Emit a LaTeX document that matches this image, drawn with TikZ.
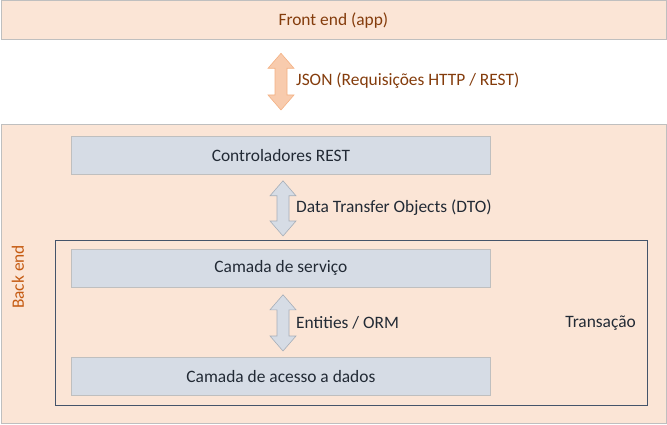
\documentclass[tikz,border=0pt]{standalone}
\usepackage{fontspec}
\setmainfont{Carlito}
\usetikzlibrary{calc}
\definecolor{peach}{HTML}{FBE5D6}
\definecolor{peachborder}{HTML}{BFBFBF}
\definecolor{brownA}{HTML}{843C0C}
\definecolor{brownB}{HTML}{C55A11}
\definecolor{bluefill}{HTML}{D6DCE5}
\definecolor{blueborder}{HTML}{A6AEB8}
\definecolor{bluetext}{HTML}{222A35}
\definecolor{transborder}{HTML}{44546A}
\definecolor{peacharrow}{HTML}{F8CBAD}
\definecolor{peacharrowborder}{HTML}{F4B183}
\tikzset{
  every node/.style={font=\fontsize{17.4}{20}\selectfont},
  layer/.style={draw=peachborder, fill=peach, line width=0.8pt, anchor=north west, inner sep=0pt},
  bluebox/.style={draw=peachborder, fill=bluefill, line width=0.8pt, anchor=north west, inner sep=0pt,
    minimum width=419pt, minimum height=38pt, text=bluetext},
  transbox/.style={draw=transborder, line width=1pt, anchor=north west, inner sep=0pt,
    minimum width=592pt, minimum height=165pt},
  peachblock/.style={draw=peacharrowborder, fill=peacharrow, line width=0.6pt},
  blueblock/.style={draw=blueborder, fill=bluefill, line width=0.6pt},
  lbl/.style={anchor=west, inner sep=0pt},
}
\newcommand\vblockarrow[6]{%
\path[#1] let \p1=(#2.south), \p2=(#3.north) in
 (#4pt,\y1-#5) -- (#4pt+13pt,\y1-#5-15pt) -- (#4pt+6pt,\y1-#5-15pt) -- (#4pt+6pt,\y2+#6+15pt)
 -- (#4pt+13pt,\y2+#6+15pt) -- (#4pt,\y2+#6) -- (#4pt-13pt,\y2+#6+15pt) -- (#4pt-6pt,\y2+#6+15pt)
 -- (#4pt-6pt,\y1-#5-15pt) -- (#4pt-13pt,\y1-#5-15pt) -- cycle;}
\begin{document}
\begin{tikzpicture}[x=1pt,y=-1pt]
\useasboundingbox (0,0) rectangle (667,425);
\node[layer, minimum width=665pt, minimum height=39pt, text=brownA] (front) at (0.5,0.5) {Front end (app)};
\node[layer, minimum width=665pt, minimum height=299pt] (back) at (0.5,124) {};
\node[rotate=90, text=brownB] (backlbl) at (18,277) {Back end};
\node[bluebox] (ctrl) at (71,136) {Controladores REST};
\node[transbox] (trans) at (55,240) {};
\node[bluebox] (serv) at (71,249) {Camada de serviço};
\node[bluebox] (dados) at (71,357) {Camada de acesso a dados};
\node[text=bluetext, anchor=east, inner sep=0pt] (translbl) at (636,323) {Transação};
\vblockarrow{peachblock}{front}{back}{281}{13pt}{14pt}
\vblockarrow{blueblock}{ctrl}{trans}{283}{6pt}{4pt}
\vblockarrow{blueblock}{serv}{dados}{283}{7pt}{6pt}
\node[lbl, text=brownA] (jsonlbl) at (296,81) {JSON (Requisições HTTP / REST)};
\node[lbl, text=bluetext] (dtolbl) at (296,208) {Data Transfer Objects (DTO)};
\node[lbl, text=bluetext] (entlbl) at (296,323) {Entities / ORM};
\end{tikzpicture}
\end{document}
